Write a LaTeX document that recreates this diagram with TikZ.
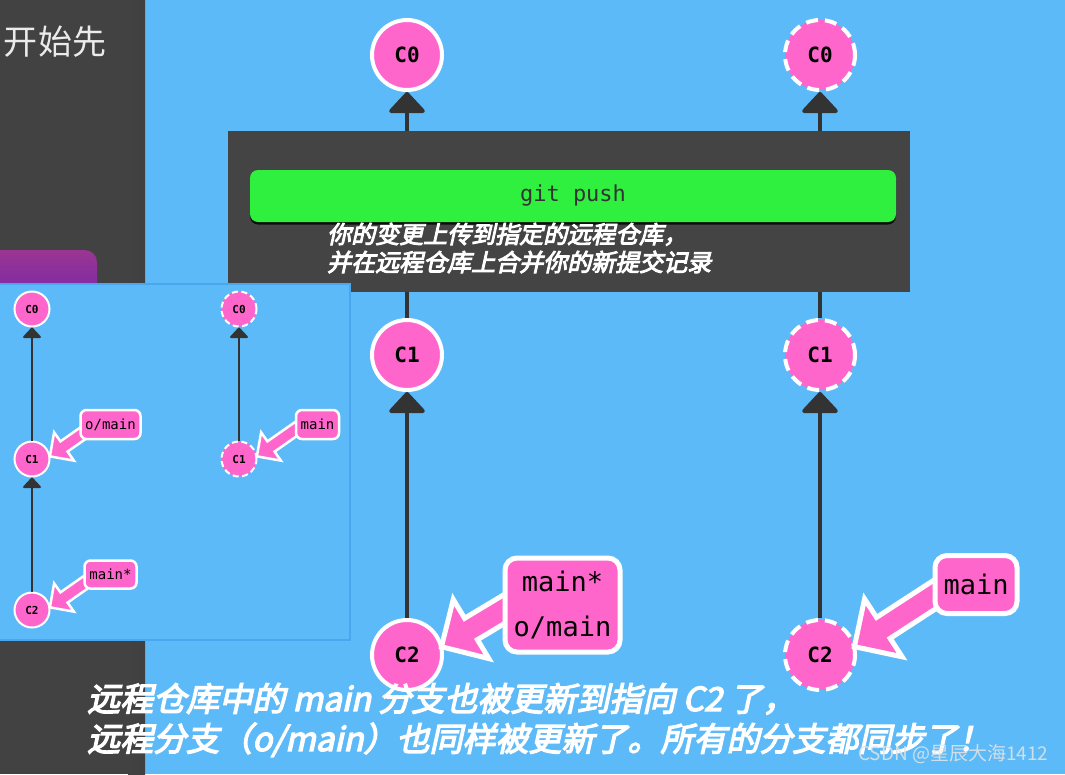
\documentclass[tikz,border=0pt]{standalone}
\usepackage{fontspec}
\setmonofont{DejaVu Sans Mono}
\newfontfamily\cjk{Noto Sans CJK SC}
\newfontfamily\cjkbrush[FakeSlant=0.22,FakeBold=4]{Noto Sans CJK SC}
\usepackage{tikz}
\usetikzlibrary{arrows.meta,positioning,shapes.arrows,shadows}
\definecolor{gitbg}{HTML}{5DBAF9}
\definecolor{gitedge}{HTML}{4AA6EE}
\definecolor{stripgrey}{HTML}{424242}
\definecolor{boxgrey}{HTML}{444444}
\definecolor{gitgreen}{HTML}{2FEF3F}
\definecolor{gitpink}{HTML}{FF66CC}
\definecolor{gitline}{HTML}{333333}
\definecolor{tabpurple}{HTML}{9A3592}

\begin{document}
\begin{tikzpicture}[x=1pt,y=-1pt,
  commit/.style={circle,fill=gitpink,draw=white,line width=4pt,minimum size=70pt,inner sep=0pt,font=\ttfamily\bfseries\fontsize{21}{21}\selectfont},
  ocommit/.style={commit,dash pattern=on 12pt off 7pt},
  mcommit/.style={commit,line width=2pt,minimum size=35pt,font=\ttfamily\bfseries\fontsize{11}{11}\selectfont},
  mocommit/.style={mcommit,dash pattern=on 6pt off 3.5pt},
  parent/.style={draw=gitline,line width=4pt,-{Triangle[width=40pt,length=22pt,round]}},
  mparent/.style={draw=gitline,line width=2pt,-{Triangle[width=20pt,length=11pt,round]}},
  branch/.style={rectangle,rounded corners=12pt,fill=gitpink,draw=white,line width=5pt,align=center,inner sep=0pt,font=\ttfamily\fontsize{27}{45}\selectfont},
  mbranch/.style={branch,rounded corners=6pt,line width=2.5pt,font=\ttfamily\fontsize{14}{14}\selectfont},
  pointer/.style={single arrow,fill=gitpink,draw=white,line width=5pt,anchor=tip,inner sep=10pt,single arrow head extend=22pt,minimum height=115pt},
  mpointer/.style={pointer,line width=2.5pt,inner sep=5pt,single arrow head extend=11pt,minimum height=57pt},
  brush/.style={text=white,align=left,anchor=west,inner sep=0pt},
]
\useasboundingbox (0,0) rectangle (1065,774);
\fill[gitbg] (0,0) rectangle (1065,774);
\fill[stripgrey] (0,0) rectangle (145,774);
\shade[left color=stripgrey,right color=black!75] (128,-2) rectangle (145,776);
\node[text=white!92!black,font=\cjk\fontsize{34}{34}\selectfont] (start) at (55,42) {开始先};

\foreach \c/\y in {0/55,1/355,2/655} {
  \node[commit] (lc\c) at (407,\y) {C\c};
  \node[ocommit] (rc\c) at (820,\y) {C\c};
}
\foreach \a/\b in {2/1,1/0} {
  \draw[parent] (lc\a) -- (lc\b);
  \draw[parent] (rc\a) -- (rc\b);
}

\node[fill=boxgrey,minimum width=682pt,minimum height=161pt,inner sep=0pt] (cmdpanel) at (569,211.5) {};
\node[fill=gitgreen,rounded corners=8pt,minimum width=646pt,minimum height=52pt,inner sep=0pt,
  drop shadow={shadow xshift=0pt,shadow yshift=-2.5pt,fill=black,opacity=0.8},
  text=gitline,font=\ttfamily\fontsize{22}{22}\selectfont] (cmdbar) at (573,196) {git push};
\node[brush,font=\cjkbrush\fontsize{24}{28}\selectfont] (cmdtext) at (327,248)
  {你的变更上传到指定的远程仓库，\\并在远程仓库上合并你的新提交记录};

\node[pointer,rotate=211] (lptr) at ([xshift=-5pt]lc2.10) {};
\node[branch,minimum width=115pt,minimum height=94pt] (lmain) at (562.5,605) {main*\\o/main};
\node[pointer,rotate=213] (rptr) at ([xshift=-5pt]rc2.10) {};
\node[branch,minimum width=82pt,minimum height=58pt] (rmain) at (976,584.5) {main};

\shade[top color=tabpurple,bottom color=tabpurple!85!blue] (0,284) -- (0,250) -- (85,250) to[out=0,in=90] (97,262) -- (97,284) -- cycle;
\fill[gitbg] (0,284) rectangle (350,640);
\draw[gitedge,line width=2pt] (0,284) -- (350,284) -- (350,640) -- (0,640);

\foreach \c/\y in {0/309,1/459,2/610}
  \node[mcommit] (mc\c) at (32,\y) {C\c};
\foreach \c/\y in {0/309,1/459}
  \node[mocommit] (nc\c) at (239,\y) {C\c};
\draw[mparent] (mc2) -- (mc1);
\draw[mparent] (mc1) -- (mc0);
\draw[mparent] (nc1) -- (nc0);
\node[mpointer,rotate=215] (mptr1) at ([xshift=-2pt]mc1.5) {};
\node[mbranch,minimum width=60pt,minimum height=29pt] (mremote) at (110.5,424.5) {o/main};
\node[mpointer,rotate=215] (mptr2) at ([xshift=-2pt]mc2.5) {};
\node[mbranch,minimum width=52pt,minimum height=28pt] (mmain) at (110.5,574.5) {main*};
\node[mpointer,rotate=215] (mptr3) at ([xshift=-2pt]nc1.5) {};
\node[mbranch,minimum width=43pt,minimum height=29pt] (nmain) at (317.5,424.5) {main};

\node[brush,font=\cjkbrush\fontsize{33}{40}\selectfont] (caption) at (87,720)
  {远程仓库中的 main 分支也被更新到指向 C2 了，\\远程分支（o/main）也同样被更新了。所有的分支都同步了！};
\node[anchor=east,text=white!80!gray,opacity=0.85,font=\cjk\fontsize{19}{19}\selectfont] (mark) at (1052,754) {CSDN @星辰大海1412};
\end{tikzpicture}
\end{document}
